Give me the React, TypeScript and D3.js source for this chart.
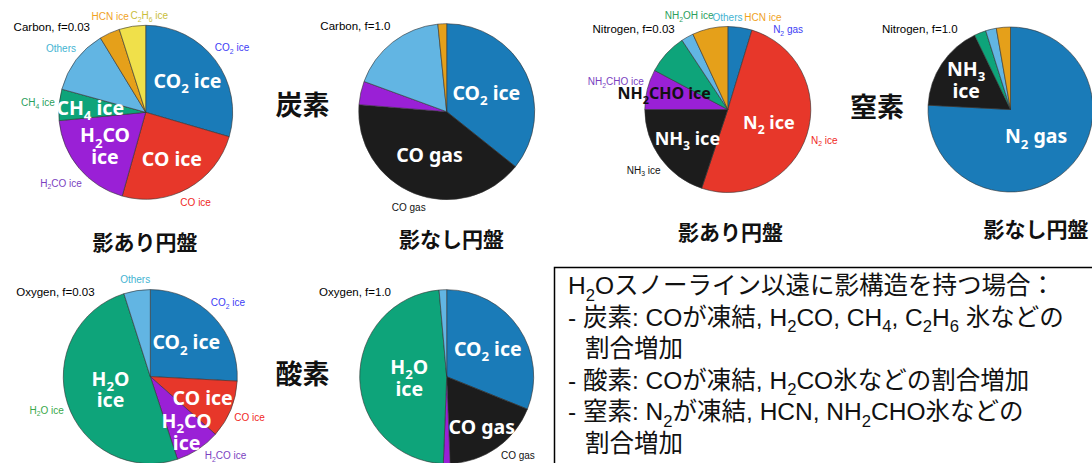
import React from "react";
import * as d3 from "d3";

// ---- Data: share of each element carried by each species (percent) ----
const carbonSpecies = ["CO_2 ice", "CO ice", "CO gas", "H_2CO ice", "CH_4 ice", "Others", "HCN ice", "C_2H_6 ice"];
const carbonShadowed = [29.5, 24.8, 0, 19.1, 5.8, 12.0, 3.8, 4.9];
const carbonUnshadowed = [35.7, 0, 40.5, 4.3, 0, 17.8, 1.6, 0];
const carbonPalette = ["#1a7bb8", "#e7372a", "#1c1c1c", "#9a20d6", "#0ea47a", "#62b5e3", "#e5a01a", "#f0e04a"];

const nitrogenSpecies = ["N_2 gas", "N_2 ice", "NH_3 ice", "NH_2CHO ice", "NH_2OH ice", "Others", "HCN ice"];
const nitrogenShadowed = [4.7, 50.4, 19.9, 7.8, 7.9, 2.4, 6.9];
const nitrogenUnshadowed = [75.8, 0, 17.0, 0, 2.3, 2.1, 2.75];
const nitrogenPalette = ["#1a7bb8", "#e7372a", "#1c1c1c", "#9a20d6", "#0ea47a", "#62b5e3", "#e5a01a"];

const oxygenSpecies = ["CO_2 ice", "CO ice", "CO gas", "H_2CO ice", "H_2O ice", "Others"];
const oxygenShadowed = [25.8, 10.7, 0, 8.4, 50.1, 4.9];
const oxygenUnshadowed = [31.1, 0, 18.3, 1.25, 48.0, 1.4];
const oxygenPalette = ["#1a7bb8", "#e7372a", "#1c1c1c", "#9a20d6", "#0ea47a", "#62b5e3"];

// Labels written inside wedges ("\n" breaks a line) and beside them
const carbonShadowedInner = ["CO_2 ice", "CO ice", "H_2CO\nice", "CH_4 ice"];
const carbonShadowedOuter = ["CO_2 ice", "CO ice", "H_2CO ice", "CH_4 ice", "Others", "HCN ice", "C_2H_6 ice"];
const carbonUnshadowedInner = ["CO_2 ice", "CO gas"];
const carbonUnshadowedOuter = ["CO gas"];
const nitrogenShadowedInner = ["N_2 ice", "NH_3 ice", "NH_2CHO ice"];
const nitrogenShadowedOuter = ["N_2 gas", "N_2 ice", "NH_3 ice", "NH_2CHO ice", "NH_2OH ice", "Others", "HCN ice"];
const nitrogenUnshadowedInner = ["NH_3\nice", "N_2 gas"];
const nitrogenUnshadowedOuter: string[] = [];
const oxygenShadowedInner = ["CO_2 ice", "CO ice", "H_2CO\nice", "H_2O\nice"];
const oxygenShadowedOuter = ["CO_2 ice", "CO ice", "H_2CO ice", "H_2O ice", "Others"];
const oxygenUnshadowedInner = ["CO_2 ice", "CO gas", "H_2O\nice"];
const oxygenUnshadowedOuter = ["CO gas"];

const elementNames = ["炭素", "酸素", "窒素"];
const diskCaptions = ["影あり円盤", "影なし円盤", "影あり円盤", "影なし円盤"];

const noteLines = [
  "H_2Oスノーライン以遠に影構造を持つ場合：",
  "- 炭素: COが凍結, H_2CO, CH_4, C_2H_6 氷などの",
  "  割合増加",
  "- 酸素: COが凍結, H_2CO氷などの割合増加",
  "- 窒素: N_2が凍結, HCN, NH_2CHO氷などの",
  "  割合増加",
];

// Colours of the small side labels
const outerLabelColor: Record<string, string> = {
  "CO_2 ice": "#3c3cf5",
  "CO ice": "#f0281e",
  "CO gas": "#111111",
  "H_2CO ice": "#7b3fbf",
  "CH_4 ice": "#2aa05c",
  "Others": "#45b4d2",
  "HCN ice": "#f0a21e",
  "C_2H_6 ice": "#c9be3a",
  "H_2O ice": "#3aa84a",
  "N_2 gas": "#3c3cf5",
  "N_2 ice": "#f0281e",
  "NH_3 ice": "#111111",
  "NH_2CHO ice": "#7b3fbf",
  "NH_2OH ice": "#2aa05c",
};

// ---- Layout ----
const W = 1092;
const H = 463;
const LATIN = "'Liberation Sans', Arial, Helvetica, sans-serif";
const BOLD = "'Noto Sans', 'Noto Sans CJK JP', sans-serif";
const JP = "'Noto Sans CJK JP', sans-serif";
const NOTE = "'Liberation Sans', 'Noto Sans CJK JP', sans-serif";
const OUTER_FS = 10;
const TITLE_FS = 11.5;

type Panel = {
  title: string;
  species: string[];
  values: number[];
  palette: string[];
  inner: string[];
  innerR: number[]; // distance of each inside label from the centre, as a fraction of the radius
  outer: string[];
  cx: number;
  cy: number;
  r: number;
  innerSize: number;
  darkSmall?: string[];
};

const panels: Panel[] = [
  { title: "Carbon, f=0.03", species: carbonSpecies, values: carbonShadowed, palette: carbonPalette,
    inner: carbonShadowedInner, innerR: [0.6, 0.62, 0.61, 0.64], outer: carbonShadowedOuter,
    cx: 145.7, cy: 112.3, r: 87, innerSize: 19.5 },
  { title: "Carbon, f=1.0", species: carbonSpecies, values: carbonUnshadowed, palette: carbonPalette,
    inner: carbonUnshadowedInner, innerR: [0.5, 0.53], outer: carbonUnshadowedOuter,
    cx: 446.7, cy: 111.7, r: 88, innerSize: 19.5 },
  { title: "Nitrogen, f=0.03", species: nitrogenSpecies, values: nitrogenShadowed, palette: nitrogenPalette,
    inner: nitrogenShadowedInner, innerR: [0.52, 0.6, 0.79], outer: nitrogenShadowedOuter,
    cx: 727.8, cy: 109.5, r: 83, innerSize: 18, darkSmall: ["NH_2CHO ice"] },
  { title: "Nitrogen, f=1.0", species: nitrogenSpecies, values: nitrogenUnshadowed, palette: nitrogenPalette,
    inner: nitrogenUnshadowedInner, innerR: [0.645, 0.45], outer: nitrogenUnshadowedOuter,
    cx: 1010.5, cy: 109.5, r: 82.5, innerSize: 19.5 },
  { title: "Oxygen, f=0.03", species: oxygenSpecies, values: oxygenShadowed, palette: oxygenPalette,
    inner: oxygenShadowedInner, innerR: [0.57, 0.65, 0.76, 0.48], outer: oxygenShadowedOuter,
    cx: 150.3, cy: 376.6, r: 87, innerSize: 19.5 },
  { title: "Oxygen, f=1.0", species: oxygenSpecies, values: oxygenUnshadowed, palette: oxygenPalette,
    inner: oxygenUnshadowedInner, innerR: [0.57, 0.7, 0.43], outer: oxygenUnshadowedOuter,
    cx: 446.7, cy: 376.7, r: 87, innerSize: 19.5 },
];

const elementPos = [
  { x: 302.5, y: 103.5 },
  { x: 302.5, y: 372 },
  { x: 877, y: 105 },
];
const captionPos = [
  { x: 145, y: 241 },
  { x: 451.5, y: 238 },
  { x: 730.5, y: 231 },
  { x: 1036, y: 228 },
];

// Split "H_2CO" style strings into normal and subscript runs
function segments(s: string) {
  const out: { t: string; sub: boolean }[] = [];
  const re = /_(\d+)/g;
  let last = 0;
  let m: RegExpExecArray | null;
  while ((m = re.exec(s))) {
    if (m.index > last) out.push({ t: s.slice(last, m.index), sub: false });
    out.push({ t: m[1], sub: true });
    last = re.lastIndex;
  }
  if (last < s.length) out.push({ t: s.slice(last), sub: false });
  return out;
}

let measureCtx: CanvasRenderingContext2D | null = null;
function textWidth(s: string, fs: number, family: string) {
  if (!measureCtx && typeof document !== "undefined") {
    measureCtx = document.createElement("canvas").getContext("2d");
  }
  let w = 0;
  for (const g of segments(s)) {
    const size = g.sub ? fs * 0.68 : fs;
    if (measureCtx) {
      measureCtx.font = `${size}px ${family}`;
      w += measureCtx.measureText(g.t).width;
    } else {
      w += g.t.length * size * 0.55;
    }
  }
  return w;
}

function Rich({ s, fs }: { s: string; fs: number }) {
  const segs = segments(s);
  const shift = fs * 0.27;
  let down = false;
  return (
    <>
      {segs.map((g, i) => {
        let dy: number | undefined;
        if (g.sub && !down) {
          dy = shift;
          down = true;
        } else if (!g.sub && down) {
          dy = -shift;
          down = false;
        }
        return (
          <tspan key={i} dy={dy} fontSize={g.sub ? fs * 0.68 : undefined}>
            {g.t}
          </tspan>
        );
      })}
    </>
  );
}

type Item = { s: string; v: number; c: string };
type LBox = { label: string; x: number; y: number; w: number; h: number; ang: number; fixed: boolean };

// Side labels sit just outside the rim at their wedge's mid-angle; overlapping
// labels (or ones leaving the canvas) slide around the rim until they fit.
function layoutOuter(p: Panel, arcs: d3.PieArcDatum<Item>[], titleBox: LBox): LBox[] {
  const place = (b: LBox) => {
    const s = Math.sin(b.ang);
    const c = Math.cos(b.ang);
    const ext = Math.abs(s) * b.w / 2 + Math.abs(c) * b.h / 2;
    const d = p.r + 4 + ext;
    b.x = p.cx + d * s;
    b.y = p.cy - d * c;
  };
  const boxes: LBox[] = [];
  for (const label of p.outer) {
    const a = arcs.find((d) => d.data.s === label);
    if (!a) continue;
    const b: LBox = {
      label,
      x: 0,
      y: 0,
      w: textWidth(label, OUTER_FS, LATIN),
      h: OUTER_FS * 1.05,
      ang: (a.startAngle + a.endAngle) / 2,
      fixed: false,
    };
    place(b);
    boxes.push(b);
  }
  const all = [titleBox, ...boxes];
  const pad = 1.5;
  const step = 0.003;
  const overlap = (a: LBox, b: LBox) =>
    Math.abs(a.x - b.x) < (a.w + b.w) / 2 + pad && Math.abs(a.y - b.y) < (a.h + b.h) / 2 + pad;
  const wrap = (x: number) => Math.atan2(Math.sin(x), Math.cos(x));
  for (let it = 0; it < 900; it++) {
    let any = false;
    for (let i = 0; i < all.length; i++) {
      for (let j = i + 1; j < all.length; j++) {
        const a = all[i];
        const b = all[j];
        if (a.fixed && b.fixed) continue;
        if (!overlap(a, b)) continue;
        any = true;
        if (a.fixed || b.fixed) {
          const mv = a.fixed ? b : a;
          const fx = a.fixed ? a : b;
          const sg = Math.sign(Math.cos(mv.ang) * (mv.x - fx.x) + Math.sin(mv.ang) * (mv.y - fx.y)) || 1;
          mv.ang += sg * step;
          place(mv);
        } else {
          const sg = wrap(b.ang - a.ang) >= 0 ? 1 : -1;
          a.ang -= (sg * step) / 2;
          b.ang += (sg * step) / 2;
          place(a);
          place(b);
        }
      }
    }
    for (const b of boxes) {
      let dx = 0;
      let dy = 0;
      if (b.y - b.h / 2 < 1) dy = 1;
      if (b.y + b.h / 2 > H - 2) dy = -1;
      if (b.x - b.w / 2 < 1) dx = 1;
      if (b.x + b.w / 2 > W - 1) dx = -1;
      if (dx || dy) {
        any = true;
        const sg = Math.sign(Math.cos(b.ang) * dx + Math.sin(b.ang) * dy) || 1;
        b.ang += sg * step;
        place(b);
      }
    }
    if (!any) break;
  }
  return boxes;
}

function PieChart({ p }: { p: Panel }) {
  const items: Item[] = p.species
    .map((s, i) => ({ s, v: p.values[i], c: p.palette[i] }))
    .filter((d) => d.v > 0);
  const arcs = d3.pie<Item>().sort(null).value((d) => d.v).startAngle(0).endAngle(2 * Math.PI)(items);
  const arc = d3.arc<d3.PieArcDatum<Item>>().innerRadius(0).outerRadius(p.r);
  const find = (s: string) => arcs.find((a) => a.data.s === s);
  const mid = (a: d3.PieArcDatum<Item>) => (a.startAngle + a.endAngle) / 2;

  const titleRight = p.cx - 0.64 * p.r;
  const titleBase = p.cy - p.r + 6;
  const titleW = textWidth(p.title, TITLE_FS, LATIN);
  const titleBox: LBox = {
    label: p.title,
    x: titleRight - titleW / 2,
    y: titleBase - TITLE_FS * 0.35,
    w: titleW,
    h: TITLE_FS,
    ang: 0,
    fixed: true,
  };
  const outerBoxes = layoutOuter(p, arcs, titleBox);

  return (
    <g>
      <g transform={`translate(${p.cx},${p.cy})`}>
        {arcs.map((a, i) => (
          <path key={i} d={arc(a) || ""} fill={a.data.c} stroke="#333" strokeWidth={0.6} strokeLinejoin="round" />
        ))}
      </g>
      <text x={titleRight} y={titleBase} textAnchor="end" fontFamily={LATIN} fontSize={TITLE_FS} fill="#000">
        {p.title}
      </text>
      {p.inner.map((label, k) => {
        const key = label.replace("\n", " ");
        const a = find(key);
        if (!a) return null;
        const m = mid(a);
        const dark = p.darkSmall && p.darkSmall.includes(key);
        const fs = dark ? 16 : p.innerSize;
        const rr = p.innerR[k] * p.r;
        const x = p.cx + rr * Math.sin(m);
        const y = p.cy - rr * Math.cos(m);
        const lines = label.split("\n");
        const lh = fs * 1.12;
        return (
          <text
            key={"in" + k}
            textAnchor="middle"
            fontFamily={BOLD}
            fontWeight={700}
            fontSize={fs}
            fill={dark ? "#111" : "#fff"}
          >
            {lines.map((ln, j) => (
              <tspan key={j} x={x} y={y + (j - (lines.length - 1) / 2) * lh + fs * 0.36}>
                <Rich s={ln} fs={fs} />
              </tspan>
            ))}
          </text>
        );
      })}
      {outerBoxes.map((b, k) => (
        <text
          key={"out" + k}
          x={b.x}
          y={b.y + OUTER_FS * 0.35}
          textAnchor="middle"
          fontFamily={LATIN}
          fontSize={OUTER_FS}
          fill={outerLabelColor[b.label] || "#000"}
        >
          <Rich s={b.label} fs={OUTER_FS} />
        </text>
      ))}
    </g>
  );
}

export default function App() {
  const noteX = 568;
  const noteY0 = 294;
  const noteStep = 31.6;
  const noteFs = 24.5;
  return (
    <svg
      width={W}
      height={H}
      viewBox={`0 0 ${W} ${H}`}
      style={{ position: "absolute", left: 0, top: 0, background: "#fff" }}
    >
      <rect x={0} y={0} width={W} height={H} fill="#fff" />
      {panels.map((p, i) => (
        <PieChart key={i} p={p} />
      ))}
      {elementNames.map((n, i) => (
        <text
          key={"el" + i}
          x={elementPos[i].x}
          y={elementPos[i].y}
          textAnchor="middle"
          dominantBaseline="central"
          fontFamily={JP}
          fontWeight={700}
          fontSize={27}
          fill="#111"
        >
          {n}
        </text>
      ))}
      {diskCaptions.map((n, i) => (
        <text
          key={"cap" + i}
          x={captionPos[i].x}
          y={captionPos[i].y}
          textAnchor="middle"
          dominantBaseline="central"
          fontFamily={JP}
          fontWeight={700}
          fontSize={21}
          fill="#111"
        >
          {n}
        </text>
      ))}
      <rect x={554.5} y={267.5} width={560} height={220} fill="#fff" stroke="#000" strokeWidth={1.5} />
      {noteLines.map((ln, i) => {
        const indent = ln.length - ln.trimStart().length;
        return (
          <text
            key={"note" + i}
            x={noteX + indent * 8.5}
            y={noteY0 + i * noteStep}
            fontFamily={NOTE}
            fontSize={noteFs}
            fill="#111"
          >
            <Rich s={ln.trimStart()} fs={noteFs} />
          </text>
        );
      })}
    </svg>
  );
}
